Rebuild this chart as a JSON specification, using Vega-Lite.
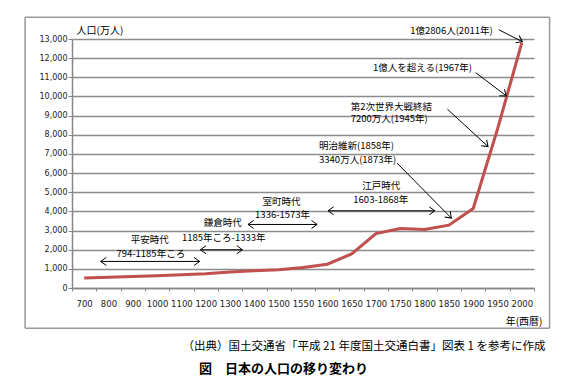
{
  "$schema": "https://vega.github.io/schema/vega-lite/v6.json",
  "width": 462,
  "height": 249,
  "autosize": {"type": "none"},
  "padding": {"left": 72, "top": 39, "right": 36, "bottom": 99},
  "background": "white",
  "config": {"view": {"stroke": null}},
  "title": {
    "text": "図　日本の人口の移り変わり",
    "orient": "bottom",
    "anchor": "start",
    "frame": "group",
    "dx": 127,
    "offset": 10,
    "font": "Noto Sans CJK JP",
    "fontSize": 13,
    "fontWeight": "bold",
    "color": "#000"
  },
  "datasets": {
    "pop": [
      {"year": "700", "pop": 520},
      {"year": "800", "pop": 560},
      {"year": "900", "pop": 600},
      {"year": "1000", "pop": 640},
      {"year": "1100", "pop": 690},
      {"year": "1200", "pop": 745},
      {"year": "1300", "pop": 830},
      {"year": "1400", "pop": 900},
      {"year": "1500", "pop": 955},
      {"year": "1550", "pop": 1070},
      {"year": "1600", "pop": 1240},
      {"year": "1650", "pop": 1780},
      {"year": "1700", "pop": 2840},
      {"year": "1750", "pop": 3100},
      {"year": "1800", "pop": 3050},
      {"year": "1850", "pop": 3280},
      {"year": "1900", "pop": 4150},
      {"year": "1950", "pop": 8300},
      {"year": "2000", "pop": 12806}
    ],
    "border": [
      {"x": 1.07, "x2": 22.64, "y": 14131, "y2": 14131},
      {"x": 1.07, "x2": 22.64, "y": -2107, "y2": -2107},
      {"x": 1.07, "x2": 1.07, "y": -2107, "y2": 14131},
      {"x": 22.64, "x2": 22.64, "y": -2107, "y2": 14131}
    ],
    "arrows": [
      {"x": 20.55, "x2": 21.52, "y": 13485, "y2": 12859},
      {"x": 19.6, "x2": 20.865, "y": 11243, "y2": 10028},
      {"x": 18.44, "x2": 20.11, "y": 9334, "y2": 7384},
      {"x": 16.37, "x2": 18.6, "y": 6518, "y2": 3650},
      {"x": 13.53, "x2": 17.92, "y": 4031, "y2": 4031},
      {"x": 10.24, "x2": 13.08, "y": 3317, "y2": 3317},
      {"x": 8.28, "x2": 10.01, "y": 1997, "y2": 1997},
      {"x": 4.18, "x2": 8.25, "y": 1387, "y2": 1387}
    ],
    "heads": [
      {"x": 21.52, "y": 12859, "angle": 26.9},
      {"x": 20.865, "y": 10028, "angle": 37.2},
      {"x": 20.11, "y": 7384, "angle": 42.6},
      {"x": 18.6, "y": 3650, "angle": 45.3},
      {"x": 13.53, "y": 4031, "angle": 180},
      {"x": 17.92, "y": 4031, "angle": 0},
      {"x": 10.24, "y": 3317, "angle": 180},
      {"x": 13.08, "y": 3317, "angle": 0},
      {"x": 8.28, "y": 1997, "angle": 180},
      {"x": 10.01, "y": 1997, "angle": 0},
      {"x": 4.18, "y": 1387, "angle": 180},
      {"x": 8.25, "y": 1387, "angle": 0}
    ],
    "labelsCenter": [
      {"x": 15.72, "y": 5350, "text": "江戸時代"},
      {"x": 15.7, "y": 4605, "text": "1603-1868年"},
      {"x": 11.62, "y": 4485, "text": "室町時代"},
      {"x": 11.66, "y": 3786, "text": "1336-1573年"},
      {"x": 9.2, "y": 3369, "text": "鎌倉時代"},
      {"x": 9.24, "y": 2607, "text": "1185年ころ-1333年"},
      {"x": 6.2, "y": 2482, "text": "平安時代"},
      {"x": 6.24, "y": 1773, "text": "794-1185年ころ"}
    ],
    "labelsLeft": [
      {"x": 14.46, "y": 9470, "text": "第2次世界大戦終結"},
      {"x": 14.46, "y": 8813, "text": "7200万人(1945年)"},
      {"x": 13.16, "y": 7420, "text": "明治維新(1858年)"},
      {"x": 13.16, "y": 6690, "text": "3340万人(1873年)"}
    ],
    "labelsRight": [
      {"x": 20.3, "y": 13417, "text": "1億2806人(2011年)"},
      {"x": 19.45, "y": 11472, "text": "1億人を超える(1967年)"}
    ],
    "source": [
      {"x": 22.47, "y": -3097, "text": "（出典）国土交通省「平成 21 年度国土交通白書」図表 1 を参考に作成"}
    ]
  },
  "layer": [
    {
      "data": {"name": "pop"},
      "mark": {"type": "line", "color": "#C0504D", "strokeWidth": 3},
      "encoding": {
        "x": {
          "field": "year",
          "type": "ordinal",
          "sort": null,
          "scale": {"type": "band", "paddingInner": 0, "paddingOuter": 0},
          "axis": {
            "title": "年(西暦)",
            "titleX": 470,
            "titleY": 33,
            "titleAlign": "right",
            "titleBaseline": "middle",
            "titleFont": "Noto Sans CJK JP",
            "titleFontSize": 10,
            "titleFontWeight": "normal",
            "titleColor": "#000",
            "labelAngle": 0,
            "labelFont": "DejaVu Sans",
            "labelFontSize": 8.5,
            "labelColor": "#222",
            "labelPadding": 8,
            "tickBand": "extent",
            "tickSize": 3,
            "tickColor": "#868686",
            "domainColor": "#868686",
            "domainWidth": 1.5,
            "grid": false
          }
        },
        "y": {
          "field": "pop",
          "type": "quantitative",
          "scale": {"domain": [0, 13000], "nice": false, "zero": true},
          "axis": {
            "values": [0, 1000, 2000, 3000, 4000, 5000, 6000, 7000, 8000, 9000, 10000, 11000, 12000, 13000],
            "format": ",d",
            "title": "人口(万人)",
            "titleAngle": 0,
            "titleX": 4,
            "titleY": -9,
            "titleAlign": "left",
            "titleBaseline": "middle",
            "titleFont": "Noto Sans CJK JP",
            "titleFontSize": 10,
            "titleFontWeight": "normal",
            "titleColor": "#000",
            "labelFont": "DejaVu Sans",
            "labelFontSize": 8,
            "labelColor": "#222",
            "labelPadding": 1,
            "tickSize": 4,
            "tickColor": "#868686",
            "domainColor": "#868686",
            "domainWidth": 1.5,
            "grid": true,
            "gridColor": "#8c8c8c",
            "gridWidth": 1.5
          }
        }
      }
    },
    {
      "encoding": {
        "x": {
          "field": "x",
          "type": "quantitative",
          "scale": {"domain": [3, 22], "nice": false, "zero": false},
          "axis": null
        },
        "y": {
          "field": "y",
          "type": "quantitative",
          "scale": {"domain": [0, 13000], "nice": false, "zero": true},
          "axis": null
        }
      },
      "layer": [
        {
          "data": {"name": "border"},
          "mark": {"type": "rule", "color": "#999999", "strokeWidth": 1.5},
          "encoding": {"x2": {"field": "x2"}, "y2": {"field": "y2"}}
        },
        {
          "data": {"name": "arrows"},
          "mark": {"type": "rule", "color": "#000", "strokeWidth": 1},
          "encoding": {"x2": {"field": "x2"}, "y2": {"field": "y2"}}
        },
        {
          "data": {"name": "heads"},
          "mark": {"type": "point", "shape": "M-1.4,-1L0,0L-1.4,1", "filled": false, "stroke": "#000", "strokeWidth": 1, "size": 64, "opacity": 1},
          "encoding": {"angle": {"field": "angle", "type": "quantitative", "scale": null}}
        },
        {
          "data": {"name": "labelsCenter"},
          "mark": {"type": "text", "align": "center", "baseline": "middle", "font": "Noto Sans CJK JP", "fontSize": 9.5, "color": "#000"},
          "encoding": {"text": {"field": "text"}}
        },
        {
          "data": {"name": "labelsLeft"},
          "mark": {"type": "text", "align": "left", "baseline": "middle", "font": "Noto Sans CJK JP", "fontSize": 9.5, "color": "#000"},
          "encoding": {"text": {"field": "text"}}
        },
        {
          "data": {"name": "labelsRight"},
          "mark": {"type": "text", "align": "right", "baseline": "middle", "font": "Noto Sans CJK JP", "fontSize": 9.5, "color": "#000"},
          "encoding": {"text": {"field": "text"}}
        },
        {
          "data": {"name": "source"},
          "mark": {"type": "text", "align": "right", "baseline": "middle", "font": "Noto Sans CJK JP", "fontSize": 11.5, "color": "#000"},
          "encoding": {"text": {"field": "text"}}
        }
      ]
    }
  ],
  "resolve": {"scale": {"x": "independent", "y": "independent"}, "axis": {"x": "independent", "y": "independent"}}
}
